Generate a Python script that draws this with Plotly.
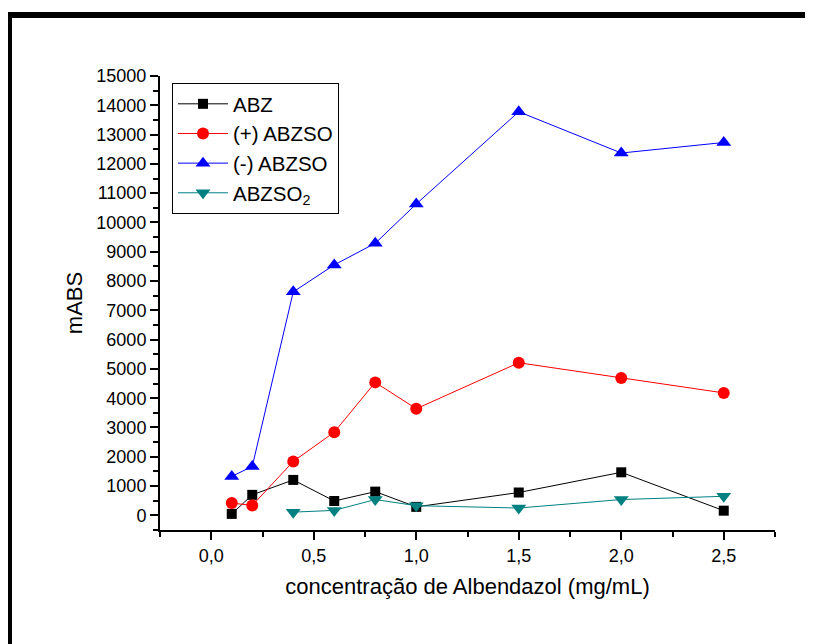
import plotly.graph_objects as go

conc = [0.1, 0.2, 0.4, 0.6, 0.8, 1.0, 1.5, 2.0, 2.5]
abz = [50, 700, 1210, 490, 810, 290, 780, 1470, 160]
abzso_plus = [420, 340, 1840, 2840, 4540, 3640, 5210, 4690, 4180]
abzso_minus = [1330, 1670, 7630, 8550, 9290, 10630, 13780, 12370, 12730]
conc_so2 = [0.4, 0.6, 0.8, 1.0, 1.5, 2.0, 2.5]
abzso2 = [110, 170, 540, 330, 250, 540, 650]

x_tickvals = [0.0, 0.5, 1.0, 1.5, 2.0, 2.5]
x_ticktext = ["0,0", "0,5", "1,0", "1,5", "2,0", "2,5"]
y_tickvals = list(range(0, 15001, 1000))
y_ticktext = [str(v) for v in y_tickvals]

FONT = "Liberation Sans, Arial, sans-serif"

fig = go.Figure()
fig.add_trace(go.Scatter(x=conc, y=abz, name="ABZ", mode="lines+markers",
                         line=dict(color="black", width=1),
                         marker=dict(symbol="square", size=10, color="black")))
fig.add_trace(go.Scatter(x=conc, y=abzso_plus, name="(+) ABZSO", mode="lines+markers",
                         line=dict(color="#FF0000", width=1),
                         marker=dict(symbol="circle", size=12, color="#FF0000")))
fig.add_trace(go.Scatter(x=conc, y=abzso_minus, name="(-) ABZSO", mode="lines+markers",
                         line=dict(color="#0000FF", width=1),
                         marker=dict(symbol="triangle-up", size=13, color="#0000FF")))
fig.add_trace(go.Scatter(x=conc_so2, y=abzso2, name="ABZSO<sub>2</sub>", mode="lines+markers",
                         line=dict(color="#008080", width=1),
                         marker=dict(symbol="triangle-down", size=13, color="#008080")))

# page offset of the plotly div inside the browser page (body margin)
OFF = 8
W, H = 813, 644
# plot area in page pixels: x 160..775, y 76..530
L, T = 160 - OFF, 76 - OFF
R = W - (775 - OFF)
B = H - (530 - OFF)
pw, ph = W - L - R, H - T - B

def px2x(px):
    return (px - OFF - L) / pw

def py2y(py):
    return (H - B - (py - OFF)) / ph

fig.update_layout(
    width=W, height=H,
    margin=dict(l=L, r=R, t=T, b=B, pad=0),
    paper_bgcolor="white", plot_bgcolor="white",
    font=dict(family=FONT, color="black"),
    showlegend=True,
    legend=dict(x=px2x(172), y=py2y(83), xanchor="left", yanchor="top",
                bgcolor="white", bordercolor="black", borderwidth=1,
                font=dict(size=20.5, family=FONT, color="black"),
                itemwidth=50, tracegroupgap=0),
    xaxis=dict(range=[-0.25, 2.75], showline=True, linecolor="black", linewidth=2,
               showgrid=False, zeroline=False,
               tickmode="array", tickvals=x_tickvals, ticktext=x_ticktext,
               ticks="outside", ticklen=8, tickwidth=1.5, tickcolor="black",
               minor=dict(ticks="outside", ticklen=5, tickwidth=1.5, tickcolor="black",
                          dtick=0.25, tick0=0, showgrid=False),
               tickfont=dict(size=18, family=FONT, color="black"),
               title=dict(text="concentração de Albendazol (mg/mL)",
                          font=dict(size=22, family=FONT, color="black"), standoff=14)),
    yaxis=dict(range=[-500, 15000], showline=True, linecolor="black", linewidth=2,
               showgrid=False, zeroline=False,
               tickmode="array", tickvals=y_tickvals, ticktext=y_ticktext,
               ticks="outside", ticklen=8, tickwidth=1.5, tickcolor="black",
               minor=dict(ticks="outside", ticklen=5, tickwidth=1.5, tickcolor="black",
                          dtick=500, tick0=0, showgrid=False),
               tickfont=dict(size=18, family=FONT, color="black"),
               title=dict(text="mABS", font=dict(size=22, family=FONT, color="black"),
                          standoff=8)),
)

# page frame (top and left edges)
fig.add_shape(type="line", xref="paper", yref="paper",
              x0=px2x(8), x1=px2x(840), y0=py2y(15), y1=py2y(15),
              line=dict(color="black", width=6))
fig.add_shape(type="line", xref="paper", yref="paper",
              x0=px2x(10), x1=px2x(10), y0=py2y(12), y1=py2y(680),
              line=dict(color="black", width=4))

fig.write_html("out.html")
